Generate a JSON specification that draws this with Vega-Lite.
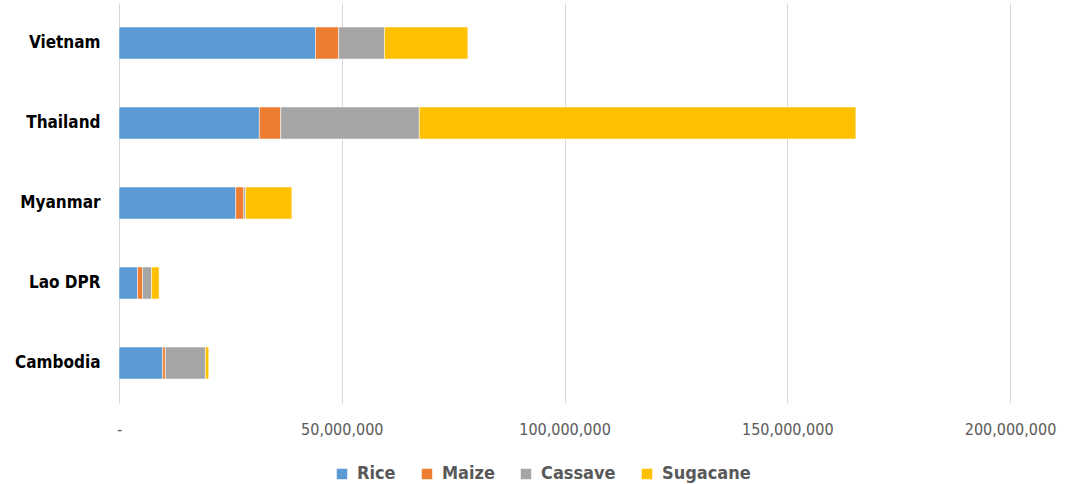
{
  "$schema": "https://vega.github.io/schema/vega-lite/v6.json",
  "width": 891,
  "height": 400,
  "autosize": {"type": "none"},
  "padding": {"left": 119, "top": 3, "right": 57, "bottom": 81},
  "background": "white",
  "config": {"view": {"stroke": null}},
  "data": {"values": [
    {"country": "Vietnam", "crop": "Rice", "value": 44100000},
    {"country": "Vietnam", "crop": "Maize", "value": 5200000},
    {"country": "Vietnam", "crop": "Cassave", "value": 10300000},
    {"country": "Vietnam", "crop": "Sugacane", "value": 18700000},
    {"country": "Thailand", "crop": "Rice", "value": 31500000},
    {"country": "Thailand", "crop": "Maize", "value": 4800000},
    {"country": "Thailand", "crop": "Cassave", "value": 31100000},
    {"country": "Thailand", "crop": "Sugacane", "value": 98000000},
    {"country": "Myanmar", "crop": "Rice", "value": 26200000},
    {"country": "Myanmar", "crop": "Maize", "value": 1800000},
    {"country": "Myanmar", "crop": "Cassave", "value": 400000},
    {"country": "Myanmar", "crop": "Sugacane", "value": 10400000},
    {"country": "Lao DPR", "crop": "Rice", "value": 4150000},
    {"country": "Lao DPR", "crop": "Maize", "value": 1150000},
    {"country": "Lao DPR", "crop": "Cassave", "value": 2000000},
    {"country": "Lao DPR", "crop": "Sugacane", "value": 1700000},
    {"country": "Cambodia", "crop": "Rice", "value": 9800000},
    {"country": "Cambodia", "crop": "Maize", "value": 600000},
    {"country": "Cambodia", "crop": "Cassave", "value": 9000000},
    {"country": "Cambodia", "crop": "Sugacane", "value": 750000}
  ]},
  "transform": [
    {"calculate": "indexof(['Rice','Maize','Cassave','Sugacane'], datum.crop)", "as": "k"}
  ],
  "mark": {"type": "bar", "stroke": "white", "strokeWidth": 0.5},
  "encoding": {
    "y": {
      "field": "country", "type": "nominal",
      "sort": ["Vietnam", "Thailand", "Myanmar", "Lao DPR", "Cambodia"],
      "scale": {"paddingInner": 0.6, "paddingOuter": 0.3},
      "axis": {
        "title": null, "domain": false, "ticks": false, "labelPadding": 19,
        "labelFont": "DejaVu Sans Condensed, Liberation Sans", "labelFontSize": 17, "labelFontWeight": "bold",
        "labelColor": "#000000"
      }
    },
    "x": {
      "field": "value", "type": "quantitative", "stack": "zero",
      "scale": {"domain": [0, 200000000], "nice": false},
      "axis": {
        "title": null, "values": [0, 50000000, 100000000, 150000000, 200000000],
        "labelExpr": "datum.value == 0 ? '-' : format(datum.value, ',')",
        "labelFlush": false, "labelOverlap": false, "labelBound": false,
        "domain": false, "ticks": false, "labelPadding": 18,
        "labelFont": "DejaVu Sans Condensed, Liberation Sans", "labelFontSize": 16, "labelColor": "#595959",
        "grid": true, "gridColor": "#d9d9d9", "gridWidth": 1
      }
    },
    "color": {
      "field": "crop", "type": "nominal",
      "scale": {"domain": ["Rice", "Maize", "Cassave", "Sugacane"], "range": ["#5b9bd5", "#ed7d31", "#a5a5a5", "#ffc000"]},
      "legend": {
        "title": null, "orient": "none", "direction": "horizontal",
        "legendX": 214, "legendY": 462,
        "symbolType": "square", "symbolSize": 110, "symbolStrokeWidth": 0,
        "labelFont": "DejaVu Sans Condensed, Liberation Sans", "labelFontSize": 18, "labelFontWeight": "bold",
        "labelColor": "#595959", "columnPadding": 22, "labelOffset": 6
      }
    },
    "order": {"field": "k", "type": "quantitative"}
  }
}
